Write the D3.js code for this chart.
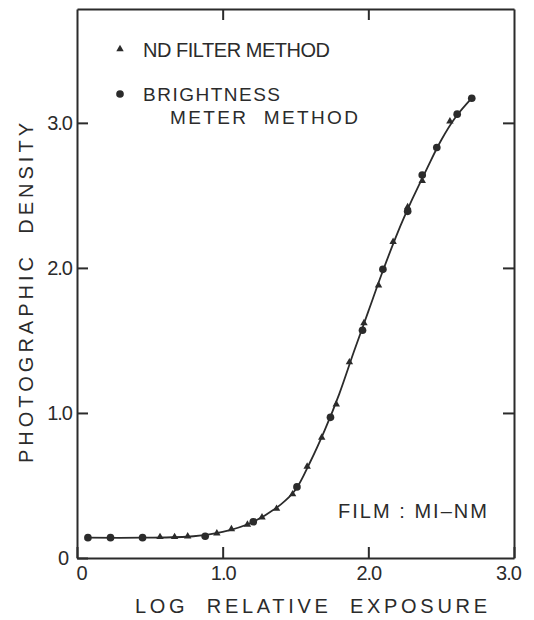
<!DOCTYPE html>
<html>
<head>
<meta charset="utf-8">
<script src="https://cdn.jsdelivr.net/npm/d3@7"></script>
<style>
  body { margin: 0; background: #fff; }
  text { font-family: "Liberation Sans", Arial, sans-serif; fill: #2b2b2b; }
</style>
</head>
<body>
<div id="chart"></div>
<script>
// values (log relative exposure, photographic density)
let ndFilterX = [0.57, 0.67, 0.76, 0.96, 1.06, 1.17, 1.27, 1.37, 1.48, 1.58, 1.68, 1.78, 1.87, 1.97, 2.07, 2.17, 2.27, 2.37, 2.56];
let ndFilterY = [0.145, 0.145, 0.15, 0.17, 0.20, 0.23, 0.28, 0.34, 0.44, 0.63, 0.83, 1.06, 1.35, 1.62, 1.88, 2.18, 2.42, 2.60, 3.01];

let brightnessX = [0.075, 0.23, 0.45, 0.88, 1.21, 1.51, 1.74, 1.96, 2.10, 2.27, 2.37, 2.47, 2.61, 2.71];
let brightnessY = [0.14, 0.14, 0.14, 0.15, 0.25, 0.49, 0.97, 1.57, 1.99, 2.39, 2.64, 2.83, 3.06, 3.17];

// the smooth characteristic curve drawn through the points
let curveX = [0.075, 0.45, 0.8, 1.0, 1.2, 1.4, 1.5, 1.6, 1.7, 1.8, 1.9, 2.0, 2.1, 2.2, 2.3, 2.4, 2.5, 2.6, 2.71];
let curveY = [0.14, 0.14, 0.15, 0.18, 0.245, 0.37, 0.47, 0.66, 0.88, 1.13, 1.42, 1.70, 1.98, 2.24, 2.47, 2.68, 2.88, 3.04, 3.17];

let xTicks = [0, 1, 2, 3];
let xTickLabels = ['0', '1.0', '2.0', '3.0'];
let yTicks = [0, 1, 2, 3];
let yTickLabels = ['0', '1.0', '2.0', '3.0'];

let ink = '#2b2b2b';
let width = 534, height = 620;

let svg = d3.select('#chart')
  .append('svg')
  .attr('width', width)
  .attr('height', height);

let x = d3.scaleLinear().domain([0, 3]).range([77, 514]);
let y = d3.scaleLinear().domain([0, 3.785]).range([558, 9]);

// frame with inward ticks on all four sides
let bottomAxis = d3.axisBottom(x)
  .tickValues(xTicks)
  .tickFormat((d, i) => xTickLabels[i])
  .tickSizeInner(-11)
  .tickSizeOuter(0)
  .tickPadding(8);

let leftAxis = d3.axisLeft(y)
  .tickValues(yTicks)
  .tickFormat((d, i) => yTickLabels[i])
  .tickSizeInner(-11)
  .tickSizeOuter(0)
  .tickPadding(5);

let topAxis = d3.axisTop(x).tickValues([1, 2]).tickSizeInner(-11).tickSizeOuter(0).tickFormat('');
let rightAxis = d3.axisRight(y).tickValues([1, 2, 3]).tickSizeInner(-11).tickSizeOuter(0).tickFormat('');

function styleAxis(g) {
  g.select('.domain').attr('stroke', ink).attr('stroke-width', 2);
  g.selectAll('.tick line').attr('stroke', ink).attr('stroke-width', 2);
  g.selectAll('.tick text')
    .attr('font-family', '"Liberation Sans", Arial, sans-serif')
    .attr('font-size', 20)
    .attr('fill', ink)
    .attr('letter-spacing', -1);
}

svg.append('g')
  .attr('transform', 'translate(0,' + y(0) + ')')
  .call(bottomAxis)
  .call(styleAxis)
  .selectAll('.tick text')
  .attr('dx', (d) => d === 0 ? 4 : (d === 3 ? -6 : 0));

svg.append('g')
  .attr('transform', 'translate(' + x(0) + ',0)')
  .call(leftAxis)
  .call(styleAxis)
  .selectAll('.tick text')
  .attr('dx', (d) => d === 0 ? -4 : 0);

svg.append('g')
  .attr('transform', 'translate(0,' + y.range()[1] + ')')
  .call(topAxis)
  .call(styleAxis);

svg.append('g')
  .attr('transform', 'translate(' + x(3) + ',0)')
  .call(rightAxis)
  .call(styleAxis);

// axis titles
svg.append('text')
  .attr('x', 135)
  .attr('y', 613)
  .attr('font-size', 20)
  .attr('textLength', 352)
  .attr('lengthAdjust', 'spacing')
  .attr('xml:space', 'preserve')
  .text('LOG  RELATIVE  EXPOSURE');

svg.append('text')
  .attr('transform', 'translate(33,463) rotate(-90)')
  .attr('font-size', 20)
  .attr('textLength', 340)
  .attr('lengthAdjust', 'spacing')
  .attr('xml:space', 'preserve')
  .text('PHOTOGRAPHIC  DENSITY');

// curve
let curveData = curveX.map((d, i) => ({ x: d, y: curveY[i] }));
let line = d3.line()
  .x(d => x(d.x))
  .y(d => y(d.y))
  .curve(d3.curveCatmullRom.alpha(0.5));

svg.append('path')
  .datum(curveData)
  .attr('d', line)
  .attr('fill', 'none')
  .attr('stroke', ink)
  .attr('stroke-width', 1.8);

// markers
let triangle = d3.symbol().type(d3.symbolTriangle).size(24);
let circle = d3.symbol().type(d3.symbolCircle).size(46);

svg.append('g')
  .selectAll('path')
  .data(brightnessX.map((d, i) => ({ x: d, y: brightnessY[i] })))
  .enter().append('path')
  .attr('d', circle)
  .attr('transform', d => 'translate(' + x(d.x) + ',' + y(d.y) + ')')
  .attr('fill', ink);

svg.append('g')
  .selectAll('path')
  .data(ndFilterX.map((d, i) => ({ x: d, y: ndFilterY[i] })))
  .enter().append('path')
  .attr('d', triangle)
  .attr('transform', d => 'translate(' + x(d.x) + ',' + y(d.y) + ')')
  .attr('fill', ink);

// legend
let legend = svg.append('g').attr('transform', 'translate(120,0)');

legend.append('path')
  .attr('d', triangle)
  .attr('transform', 'translate(0,49)')
  .attr('fill', ink);

legend.append('text')
  .attr('x', 23)
  .attr('y', 57)
  .attr('font-size', 20)
  .attr('textLength', 187)
  .attr('lengthAdjust', 'spacing')
  .text('ND FILTER METHOD');

legend.append('path')
  .attr('d', circle)
  .attr('transform', 'translate(0,94)')
  .attr('fill', ink);

legend.append('text')
  .attr('x', 23)
  .attr('y', 101)
  .attr('font-size', 19)
  .attr('textLength', 137)
  .attr('lengthAdjust', 'spacing')
  .text('BRIGHTNESS');

legend.append('text')
  .attr('x', 50)
  .attr('y', 124)
  .attr('font-size', 19)
  .attr('textLength', 188)
  .attr('lengthAdjust', 'spacing')
  .attr('xml:space', 'preserve')
  .text('METER  METHOD');

svg.append('text')
  .attr('x', 338)
  .attr('y', 518)
  .attr('font-size', 20)
  .attr('textLength', 149)
  .attr('lengthAdjust', 'spacing')
  .attr('xml:space', 'preserve')
  .text('FILM : MI–NM');
</script>
</body>
</html>
